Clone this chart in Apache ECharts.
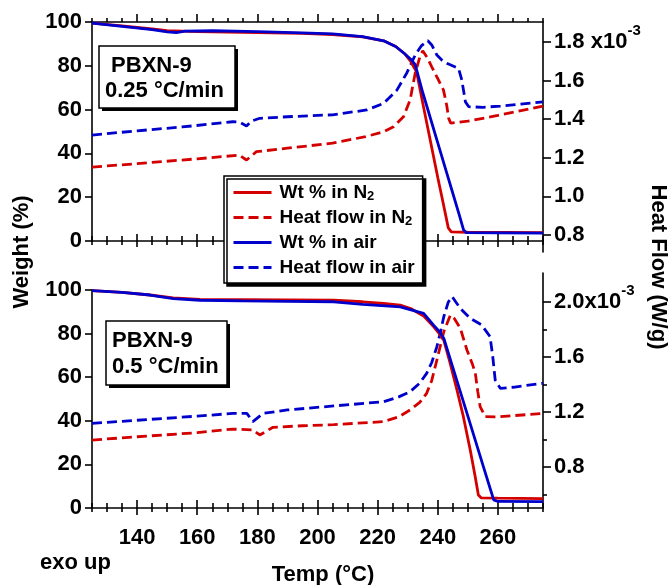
<!DOCTYPE html>
<html><head><meta charset="utf-8">
<script src="https://cdn.jsdelivr.net/npm/echarts@6/dist/echarts.min.js"></script>
<style>html,body{margin:0;padding:0;background:#fff}#c{width:668px;height:585px}</style>
</head><body><div id="c"></div>
<script>
// ---- Data (temperature in °C, weight in %, heat flow in units of 1e-3 W/g) ----
const seriesNames = ['Wt % in N2', 'Heat flow in N2', 'Wt % in air', 'Heat flow in air'];
const xTickMajor = [140, 160, 180, 200, 220, 240, 260];
const xTickMinor = [125,130,135,145,150,155,165,170,175,185,190,195,205,210,215,225,230,235,245,250,255,265,270,275];
const wtTicks = [0, 20, 40, 60, 80, 100];
const hfTopTicks = [0.8, 1.0, 1.2, 1.4, 1.6, 1.8];
const hfBotTicksMajor = [0.8, 1.2, 1.6, 2.0];
const hfBotTicksMinor = [0.6, 1.0, 1.4, 1.8];

// Top panel: 0.25 °C/min
const topWtN2 = [[125,99.5],[135,98.2],[145,96.8],[150,96.1],[160,95.6],[180,95.2],[195,94.8],[205,94.3],[215,93.2],[222,91.4],[226,88.8],[229,85.5],[231,82],[233,77],[235,63],[237.5,46],[240,29],[242,16],[243.5,6],[244.5,4.2],[250,4],[275,3.8]];
const topWtAir = [[125,99.5],[135,98],[145,96.5],[150,95.5],[153,95.2],[156,95.8],[165,96],[180,95.6],[195,95],[205,94.6],[215,93.3],[222,91.4],[226,88.8],[229,85.5],[231,83],[232.5,80.5],[235,67.8],[238,54],[240,44.8],[243,31],[245,21.8],[247,12.6],[248.6,5],[249.5,3.8],[260,3.7],[275,3.6]];
const topHfN2 = [[125,1.152],[140,1.17],[160,1.195],[174,1.214],[176.4,1.189],[179.7,1.232],[190,1.25],[205,1.276],[216,1.31],[222,1.335],[225.3,1.361],[228.6,1.413],[230.8,1.5],[232.5,1.64],[234,1.72],[235,1.755],[236.5,1.72],[238,1.672],[240,1.61],[241.9,1.551],[243,1.47],[243.6,1.406],[244.3,1.38],[250,1.39],[260,1.42],[275,1.468]];
const topHfAir = [[125,1.318],[140,1.34],[155,1.36],[171.8,1.387],[174,1.385],[176.4,1.365],[178,1.39],[180.8,1.405],[190,1.413],[205,1.423],[216.4,1.448],[222,1.482],[226.4,1.551],[229.7,1.64],[232.5,1.733],[234.5,1.78],[236.7,1.807],[238,1.785],[239.7,1.733],[241.5,1.705],[243,1.69],[246.9,1.664],[248,1.603],[249.2,1.49],[250.3,1.465],[255,1.462],[260.8,1.468],[275,1.49]];

// Bottom panel: 0.5 °C/min
const botWtN2 = [[125,99.7],[135,98.9],[144.3,97.7],[152,96.4],[160.9,95.7],[175,95.6],[190,95.5],[205.4,95.4],[215,94.6],[222,93.8],[227.5,93.1],[231,91.5],[235.3,88],[238.6,83.2],[240.5,80],[242,77],[244,67],[246.4,54.1],[248.5,42],[250.8,26.6],[252.5,14],[253.5,6],[254.5,4.6],[260,4.5],[275,4.3]];
const botWtAir = [[125,99.7],[135,98.9],[144.3,97.7],[152,96],[160.9,95.3],[175,95],[190,94.8],[205.4,94.6],[215,93.4],[227.5,92.3],[232,90.5],[235.3,89.3],[238.6,83.9],[240.5,81],[242,77.9],[245,64.5],[249.7,43.5],[253,28.7],[255.3,18.4],[257.5,8.6],[258.6,3.7],[260,3],[275,2.9]];
const botHfN2 = [[125,0.996],[140,1.02],[160,1.05],[171.8,1.076],[178.5,1.07],[180.8,1.033],[185.2,1.089],[195,1.1],[205.4,1.108],[222,1.13],[227,1.165],[230.8,1.215],[234,1.27],[236.3,1.336],[238,1.43],[239.7,1.578],[242,1.784],[244.2,1.905],[245.5,1.88],[247.5,1.809],[249.7,1.651],[251.5,1.55],[252.5,1.481],[253.3,1.35],[254.1,1.239],[255.8,1.166],[260,1.165],[275,1.19]];
const botHfAir = [[125,1.118],[140,1.14],[160,1.17],[171.8,1.19],[176.5,1.19],[178.5,1.13],[181.9,1.19],[190,1.215],[205.4,1.244],[222,1.275],[227,1.31],[230.8,1.348],[234,1.41],[236.3,1.481],[238,1.56],[239.7,1.675],[241,1.79],[242,1.893],[243.5,2.0],[244.8,2.039],[246,2.0],[247.5,1.954],[250.8,1.881],[254.6,1.833],[257.4,1.748],[258.3,1.6],[259.1,1.433],[260.8,1.372],[265,1.38],[275,1.409]];

// ---- Chart ----
const FONT = '"Liberation Sans", Arial, sans-serif';
const RED = '#d40000', BLUE = '#0000cc';
function AX() { return {color: '#000', width: 1.6}; }
const chart = echarts.init(document.getElementById('c'));

const L = 92, W = 451;
const grids = [
  {left: L, width: W, top: 22, height: 219},   // 0 top, weight
  {left: L, width: W, top: 22, height: 230},   // 1 top, heat flow
  {left: L, width: W, top: 290, height: 218},  // 2 bottom, weight
  {left: L, width: W, top: 273, height: 235}   // 3 bottom, heat flow
];

function xa(grid, pos, ticks, len, inside, showLine, label) {
  return {
    type: 'value', gridIndex: grid, position: pos, min: 125, max: 275,
    axisLine: {show: showLine, onZero: false, lineStyle: AX()},
    axisTick: {show: true, customValues: ticks.slice(), length: len, inside: inside, lineStyle: AX()},
    axisLabel: label || {show: false},
    splitLine: {show: false}
  };
}
const xLabel = {show: true, customValues: xTickMajor.slice(), fontSize: 22, fontWeight: 'bold', fontFamily: FONT, color: '#000', margin: 19};
const xAxes = [
  xa(0, 'bottom', xTickMajor, 7, true, true),      // 0 (series top weight)
  xa(0, 'bottom', xTickMajor, 6, false, false),
  xa(0, 'bottom', xTickMinor, 5, true, false),
  xa(0, 'bottom', xTickMinor, 4, false, false),
  xa(0, 'top', xTickMajor, 8, false, true),
  xa(0, 'top', xTickMinor, 4, false, false),
  {type: 'value', gridIndex: 1, min: 125, max: 275, show: false}, // 6
  xa(2, 'bottom', xTickMajor, 8, true, true),      // 7 (series bottom weight)
  xa(2, 'bottom', xTickMajor, 7, false, false, xLabel),
  xa(2, 'bottom', xTickMinor, 5, true, false),
  xa(2, 'bottom', xTickMinor, 4, false, false),
  {type: 'value', gridIndex: 3, min: 125, max: 275, show: false}  // 11
];

function labFont() { return {fontSize: 22, fontWeight: 'bold', fontFamily: FONT, color: '#000', margin: 10}; }
function hfLabel(v, big, sep) {
  const s = (Math.round(v * 10) / 10).toFixed(1);
  if (Math.abs(v - big) < 1e-6) return '{v|' + s + sep + 'x10}{s|-3}';
  return '{v|' + s + '}';
}
function richHF() {
  return {
    v: {fontSize: 22, fontWeight: 'bold', fontFamily: FONT, color: '#000', lineHeight: 38},
    s: {fontSize: 15, fontWeight: 'bold', fontFamily: FONT, color: '#000', lineHeight: 15, verticalAlign: 'top'}
  };
}
const yAxes = [
  {type: 'value', gridIndex: 0, position: 'left', min: 0, max: 100, interval: 20,
   axisLine: {show: true, onZero: false, lineStyle: AX()}, axisTick: {show: true, length: 7, lineStyle: AX()},
   axisLabel: labFont(), splitLine: {show: false}},
  {type: 'value', gridIndex: 1, position: 'right', min: 0.712, max: 1.904,
   axisLine: {show: true, onZero: false, lineStyle: AX()},
   axisTick: {show: true, customValues: hfTopTicks.slice(), length: 8, lineStyle: AX()},
   axisLabel: {show: true, customValues: hfTopTicks.slice(), margin: 11, formatter: v => hfLabel(v, 1.8, ' '), rich: richHF()},
   splitLine: {show: false}},
  {type: 'value', gridIndex: 2, position: 'left', min: 0, max: 100, interval: 20,
   axisLine: {show: true, onZero: false, lineStyle: AX()}, axisTick: {show: true, length: 7, lineStyle: AX()},
   axisLabel: labFont(), splitLine: {show: false}},
  {type: 'value', gridIndex: 3, position: 'right', min: 0.502, max: 2.211,
   axisLine: {show: true, onZero: false, lineStyle: AX()},
   axisTick: {show: true, customValues: hfBotTicksMajor.slice(), length: 8, lineStyle: AX()},
   axisLabel: {show: true, customValues: hfBotTicksMajor.slice(), margin: 11, formatter: v => hfLabel(v, 2.0, ''), rich: richHF()},
   splitLine: {show: false}},
  {type: 'value', gridIndex: 3, position: 'right', min: 0.502, max: 2.211,
   axisLine: {show: false, onZero: false},
   axisTick: {show: true, customValues: hfBotTicksMinor.slice(), length: 4, lineStyle: AX()},
   axisLabel: {show: false}, splitLine: {show: false}}
];

function line(name, data, color, dashed, xi, yi, z) {
  return {
    type: 'line', name: name, data: data, xAxisIndex: xi, yAxisIndex: yi,
    symbol: 'none', showSymbol: false, z: z, animation: false,
    lineStyle: {color: color, width: 2.8, type: dashed ? [10, 5] : 'solid'},
    itemStyle: {color: color}
  };
}
const series = [
  line(seriesNames[1], topHfN2, RED, true, 6, 1, 2),
  line(seriesNames[3], topHfAir, BLUE, true, 6, 1, 2),
  line(seriesNames[0], topWtN2, RED, false, 0, 0, 3),
  line(seriesNames[2], topWtAir, BLUE, false, 0, 0, 4),
  line(seriesNames[1], botHfN2, RED, true, 11, 3, 2),
  line(seriesNames[3], botHfAir, BLUE, true, 11, 3, 2),
  line(seriesNames[0], botWtN2, RED, false, 7, 2, 3),
  line(seriesNames[2], botWtAir, BLUE, false, 7, 2, 4)
];

function txt(text, x, y, align, rot) {
  return {type: 'text', x: x, y: y, rotation: rot || 0, z: 11,
    style: {text: text, fontSize: 22, fontWeight: 'bold', fontFamily: FONT, fill: '#000', align: align, verticalAlign: 'middle'}};
}
function boxText(x, y, lines, w, h) {
  const children = [
    {type: 'rect', z: 10, shape: {x: x + 3, y: y + 3, width: w, height: h}, style: {fill: '#000'}},
    {type: 'rect', z: 10, shape: {x: x, y: y, width: w, height: h}, style: {fill: '#fff', stroke: '#000', lineWidth: 1.5}}
  ];
  lines.forEach(function (ln) { children.push(txt(ln[0], ln[1], ln[2], 'left')); });
  return {type: 'group', z: 10, children: children};
}

const option = {
  animation: false,
  backgroundColor: '#fff',
  grid: grids,
  xAxis: xAxes,
  yAxis: yAxes,
  legend: {
    data: seriesNames.slice(),
    orient: 'vertical', left: 224, top: 176, itemWidth: 38, itemHeight: 14, itemGap: 4,
    padding: [6, 8, 5, 8], backgroundColor: '#fff', borderColor: '#000', borderWidth: 1.5,
    shadowColor: '#000', shadowOffsetX: 3, shadowOffsetY: 3, shadowBlur: 0.01,
    selectedMode: false,
    itemStyle: {opacity: 0},
    lineStyle: {width: 3},
    textStyle: {fontSize: 19, fontWeight: 'bold', fontFamily: FONT, color: '#000', lineHeight: 21, padding: [0, 0, 0, 3],
      rich: {s: {fontSize: 13, fontWeight: 'bold', fontFamily: FONT, color: '#000', lineHeight: 11, verticalAlign: 'bottom'}}},
    formatter: function (n) { return n.replace(/N2$/, 'N{s|2}'); }
  },
  graphic: [
    boxText(99, 46, [[' PBXN-9', 105, 66], ['0.25 °C/min', 105, 91]], 136, 62),
    boxText(106, 321, [['PBXN-9', 112, 341], ['0.5 °C/min', 112, 367]], 121, 64),
    txt('Weight (%)', 22, 252, 'center', Math.PI / 2),
    txt('Heat Flow (W/g)', 658, 267, 'center', -Math.PI / 2),
    txt('Temp (°C)', 323, 575, 'center'),
    txt('exo up', 40, 563, 'left')
  ],
  series: series
};
chart.setOption(option);
</script></body></html>
